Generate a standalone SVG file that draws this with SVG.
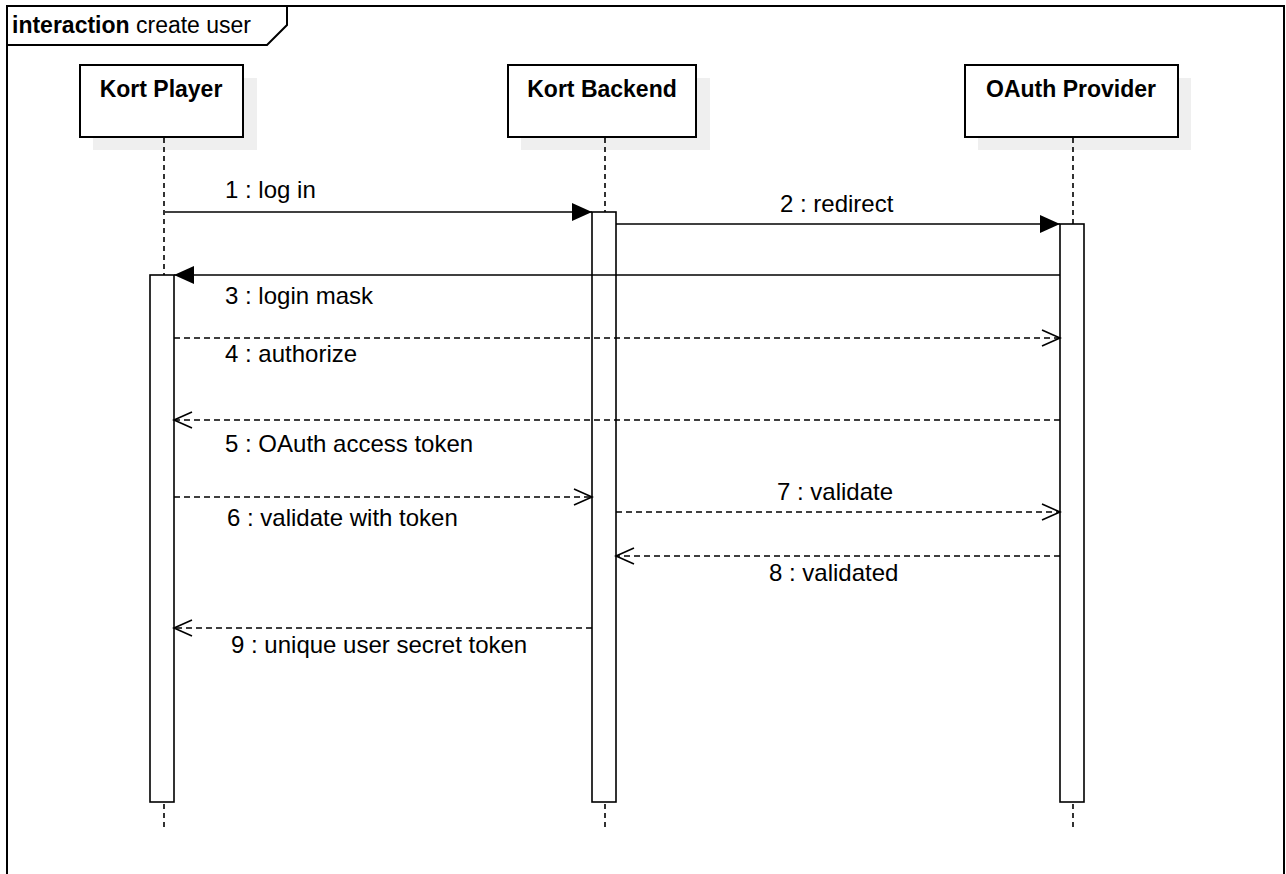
<svg xmlns="http://www.w3.org/2000/svg" width="1286" height="874" viewBox="0 0 1286 874">
  <defs>
    <style>
      .frame { fill: #ffffff; stroke: #000000; stroke-width: 2; }
      .shadow { fill: #efefef; stroke: none; }
      .box { fill: #ffffff; stroke: #000000; stroke-width: 2; }
      .life { stroke: #000000; stroke-width: 1.6; stroke-dasharray: 5 4; fill: none; }
      .bar { fill: #ffffff; stroke: #000000; stroke-width: 1.6; }
      .title { font-family: "Liberation Sans", Arial, sans-serif; font-size: 23px; fill: #000000; }
      .head { font-family: "Liberation Sans", Arial, sans-serif; font-size: 23px; font-weight: bold; fill: #000000; text-anchor: middle; }
      .lbl { font-family: "Liberation Sans", Arial, sans-serif; font-size: 24px; fill: #000000; }
      .call { stroke: #000000; stroke-width: 1.6; fill: none; }
      .reply { stroke: #000000; stroke-width: 1.4; stroke-dasharray: 6 4; fill: none; }
    </style>
    <marker id="filled" markerUnits="userSpaceOnUse" markerWidth="22" markerHeight="20" refX="20" refY="9" orient="auto">
      <path d="M0,0 L20,9 L0,18 Z" fill="#000000"/>
    </marker>
    <marker id="open" markerUnits="userSpaceOnUse" markerWidth="22" markerHeight="20" refX="19" refY="9" orient="auto">
      <path d="M1,1 L19,9 L1,17" fill="none" stroke="#000000" stroke-width="1.6"/>
    </marker>
  </defs>

  <!-- interaction frame -->
  <g id="frame">
    <rect class="frame" x="7" y="6" width="1277" height="900"/>
    <path d="M7,45 L267,45 L287,25 L287,6" fill="none" stroke="#000000" stroke-width="2"/>
    <text class="title" x="12" y="33"><tspan font-weight="bold">interaction</tspan> create user</text>
  </g>

  <!-- lifelines -->
  <g id="kort-player">
    <rect class="shadow" x="93" y="78" width="164" height="72"/>
    <rect class="box" x="80" y="65" width="163" height="72"/>
    <text class="head" x="161" y="97">Kort Player</text>
    <line class="life" x1="164" y1="138" x2="164" y2="830"/>
    <rect class="bar" x="150" y="275" width="24" height="527"/>
  </g>

  <g id="kort-backend">
    <rect class="shadow" x="521" y="78" width="189" height="72"/>
    <rect class="box" x="508" y="65" width="188" height="72"/>
    <text class="head" x="602" y="97">Kort Backend</text>
    <line class="life" x1="605" y1="138" x2="605" y2="830"/>
    <rect class="bar" x="592" y="212" width="24" height="590"/>
  </g>

  <g id="oauth-provider">
    <rect class="shadow" x="978" y="78" width="213" height="72"/>
    <rect class="box" x="965" y="65" width="213" height="72"/>
    <text class="head" x="1071" y="97">OAuth Provider</text>
    <line class="life" x1="1073" y1="138" x2="1073" y2="830"/>
    <rect class="bar" x="1060" y="224" width="24" height="578"/>
  </g>

  <!-- messages -->
  <g id="connectors">
    <line class="call" x1="165" y1="212" x2="592" y2="212" marker-end="url(#filled)"/>
    <text class="lbl" x="225" y="198">1 : log in</text>

    <line class="call" x1="616" y1="224" x2="1060" y2="224" marker-end="url(#filled)"/>
    <text class="lbl" x="780" y="212">2 : redirect</text>

    <line class="call" x1="1060" y1="275" x2="174" y2="275" marker-end="url(#filled)"/>
    <text class="lbl" x="225" y="304">3 : login mask</text>

    <line class="reply" x1="174" y1="338" x2="1060" y2="338" marker-end="url(#open)"/>
    <text class="lbl" x="225" y="362">4 : authorize</text>

    <line class="reply" x1="1060" y1="420" x2="174" y2="420" marker-end="url(#open)"/>
    <text class="lbl" x="225" y="452">5 : OAuth access token</text>

    <line class="reply" x1="174" y1="497" x2="592" y2="497" marker-end="url(#open)"/>
    <text class="lbl" x="227" y="526">6 : validate with token</text>

    <line class="reply" x1="616" y1="512" x2="1060" y2="512" marker-end="url(#open)"/>
    <text class="lbl" x="777" y="500">7 : validate</text>

    <line class="reply" x1="1060" y1="556" x2="616" y2="556" marker-end="url(#open)"/>
    <text class="lbl" x="769" y="581">8 : validated</text>

    <line class="reply" x1="592" y1="628" x2="174" y2="628" marker-end="url(#open)"/>
    <text class="lbl" x="231" y="653">9 : unique user secret token</text>
  </g>
</svg>
